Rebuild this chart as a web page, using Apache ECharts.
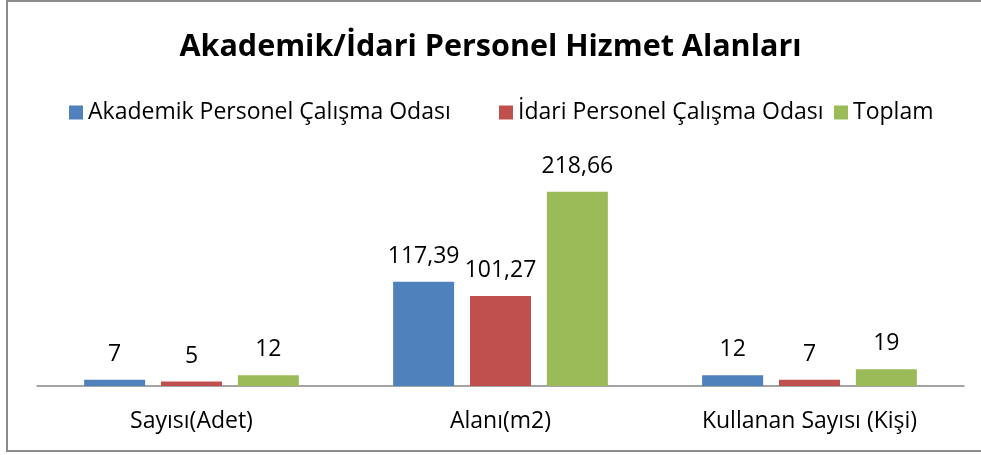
<!DOCTYPE html>
<html>
<head>
<meta charset="utf-8">
<script src="https://cdn.jsdelivr.net/npm/echarts@6/dist/echarts.min.js"></script>
<style>
  html, body { margin: 0; padding: 0; background: #fff; }
  #chart { width: 981px; height: 455px; }
</style>
</head>
<body>
<div id="chart"></div>
<script>
var categories = ['Sayısı(Adet)', 'Alanı(m2)', 'Kullanan Sayısı (Kişi)']
var seriesNames = ['Akademik Personel Çalışma Odası', 'İdari Personel Çalışma Odası', 'Toplam']
var akademik = [7, 117.39, 12]
var idari = [5, 101.27, 7]
var toplam = [12, 218.66, 19]

var colors = ['#4F81BD', '#C0504D', '#9BBB59']
var font = 'Open Sans'

var chart = echarts.init(document.getElementById('chart'))

function makeSeries(name, data, color) {
  return {
    name: name,
    type: 'bar',
    data: data,
    barWidth: 61,
    barGap: '26%',
    itemStyle: { color: color },
    label: {
      show: true,
      position: 'top',
      distance: 14,
      color: '#000',
      fontFamily: font,
      fontSize: 23,
      // ondalık ayırıcı virgül
      formatter: function (p) {
        return String(p.value).replace('.', ',')
      }
    }
  }
}

function makeLegend(name, left) {
  return {
    data: [name],
    left: left,
    top: 96,
    itemWidth: 14,
    itemHeight: 14,
    icon: 'rect',
    textStyle: { fontFamily: font, fontSize: 23, color: '#000' }
  }
}

chart.setOption({
  backgroundColor: '#fff',
  title: {
    text: 'Akademik/İdari Personel Hizmet Alanları',
    left: 'center',
    top: 27,
    textStyle: { fontFamily: font, fontSize: 30.5, fontWeight: 'bold', color: '#000' }
  },
  legend: [
    makeLegend(seriesNames[0], 64),
    makeLegend(seriesNames[1], 494),
    makeLegend(seriesNames[2], 829)
  ],
  grid: { left: 37, right: 17, top: 164, bottom: 69 },
  xAxis: {
    type: 'category',
    data: categories,
    axisTick: { show: false },
    axisLine: { lineStyle: { color: '#868686', width: 1.5 } },
    axisLabel: { fontFamily: font, fontSize: 23, color: '#000', margin: 24 }
  },
  yAxis: {
    type: 'value',
    min: 0,
    max: 250,
    show: false
  },
  graphic: [{
    type: 'rect',
    shape: { x: 7, y: 1, width: 990, height: 450 },
    style: { fill: 'none', stroke: '#8c8c8c', lineWidth: 2 },
    silent: true
  }],
  series: [
    makeSeries(seriesNames[0], akademik, colors[0]),
    makeSeries(seriesNames[1], idari, colors[1]),
    makeSeries(seriesNames[2], toplam, colors[2])
  ]
})
</script>
</body>
</html>
